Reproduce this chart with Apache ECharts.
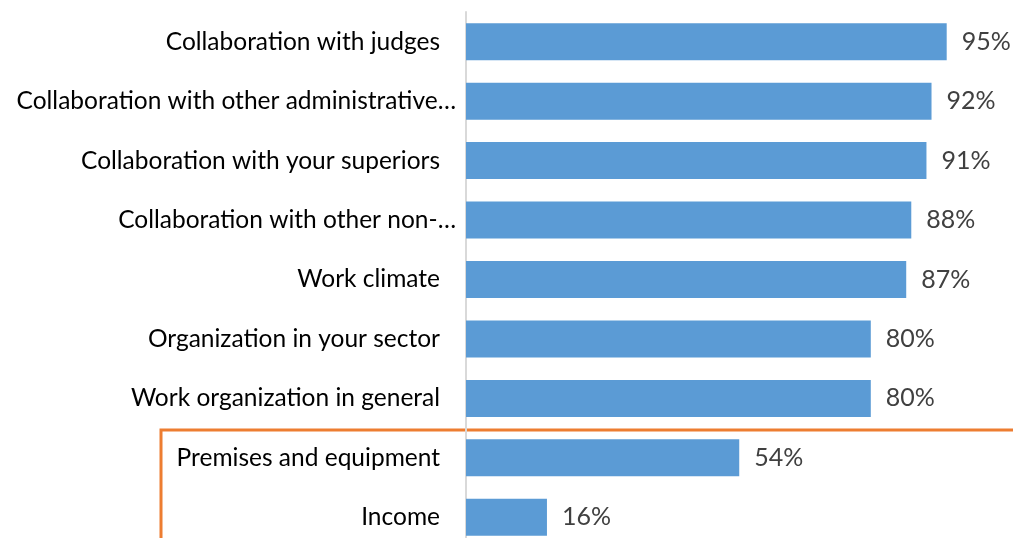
<!DOCTYPE html>
<html>
<head>
<meta charset="utf-8">
<script src="https://cdn.jsdelivr.net/npm/echarts@6/dist/echarts.min.js"></script>
<style>
  html, body { margin: 0; padding: 0; background: #fff; overflow: hidden; }
  /* the original picture is cropped at the bottom, so the chart is a bit taller than the window */
  #chart { width: 1013px; height: 547px; }
</style>
</head>
<body>
<div id="chart"></div>
<script>
// categories, top to bottom as in the picture
var categories = [
  'Collaboration with judges',
  'Collaboration with other administrative…',
  'Collaboration with your superiors',
  'Collaboration with other non-…',
  'Work climate',
  'Organization in your sector',
  'Work organization in general',
  'Premises and equipment',
  'Income'
];
var values = [95, 92, 91, 88, 87, 80, 80, 54, 16];

var myChart = echarts.init(document.getElementById('chart'));
myChart.setOption({
  animation: false,
  grid: { left: 466, right: 41, top: 12, bottom: 0, containLabel: false },
  xAxis: {
    type: 'value',
    min: 0,
    max: 100,
    show: false
  },
  yAxis: {
    type: 'category',
    inverse: true,
    data: categories,
    axisLine: { show: true, lineStyle: { color: '#d9d9d9', width: 2 } },
    axisTick: { show: false },
    axisLabel: {
      margin: 10,
      color: '#000',
      fontFamily: 'Lato',
      fontSize: 24.5,
      formatter: function (v) {
        return v.indexOf('…') >= 0 ? '{t|' + v + '}' : '{n|' + v + '}';
      },
      rich: {
        t: { fontFamily: 'Lato', fontSize: 24.5, color: '#000' },
        n: { fontFamily: 'Lato', fontSize: 24.5, color: '#000', padding: [0, 16, 0, 0] }
      }
    }
  },
  series: [{
    type: 'bar',
    data: values,
    barWidth: 37,
    itemStyle: { color: '#5B9BD5' },
    label: {
      show: true,
      position: 'right',
      distance: 15,
      color: '#404040',
      fontFamily: 'Lato',
      fontSize: 25,
      formatter: '{c}%'
    }
  }],
  graphic: [{
    type: 'polyline',
    silent: true,
    shape: { points: [[161, 560], [161, 430], [1020, 430]] },
    style: { stroke: '#ED7D31', lineWidth: 3, fill: null }
  }]
});
</script>
</body>
</html>
